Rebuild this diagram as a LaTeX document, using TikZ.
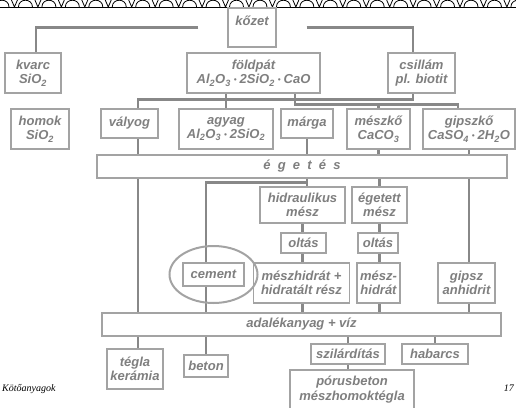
\documentclass[tikz,border=0pt]{standalone}
\usepackage{fontspec}
\setmainfont{Liberation Sans}
\newfontfamily\footfont{Liberation Serif}
\usepackage{tikz}
\usetikzlibrary{positioning, backgrounds}
\usepackage{xcolor}

\definecolor{boxgray}{HTML}{A3A3A3}
\definecolor{linegray}{HTML}{888888}
\definecolor{textgray}{HTML}{7F7F7F}

\newcommand{\lowidx}[1]{\textsubscript{#1}}
\newcommand{\kdot}{\hspace{3pt}{\fontsize{8}{8}\selectfont\raisebox{0.25ex}{•}}\hspace{3pt}}

\begin{document}
\begin{tikzpicture}[
    x=1pt, y=-1pt,
    box/.style={rectangle, draw=boxgray, line width=1.2pt, fill=white, text=textgray, align=center, inner sep=2pt,
        font=\fontsize{13}{14.5}\selectfont\bfseries\itshape},
    bar/.style={box, minimum height=23},
    conn/.style={draw=linegray, line width=2.5pt},
    ring/.style={draw=boxgray, line width=2pt}
]
\useasboundingbox (0,0) rectangle (516,407);

% border on top
\foreach \i in {0,...,22} {
    \pgfmathsetmacro{\xo}{\i*23.45-12}
    \draw[black, line width=0.8pt] (\xo,0) -- (\xo+3,7) -- (\xo+6,0);
    \draw[black, line width=0.8pt] (\xo+7,7) .. controls (\xo+7,-2) and (\xo+21,-2) .. (\xo+21,7);
}
\draw[black, line width=0.8pt] (0,7.3) -- (516,7.3);

% rocks
\node (kozet) [box, minimum width=48, text height=13pt, text depth=18pt, inner ysep=4pt] at (252,27.5) {kőzet};
\node (kvarc) [box, minimum width=56, minimum height=40] at (33,73) {kvarc\\SiO\lowidx{2}};
\node (foldpat) [box, minimum width=133, minimum height=40] at (253.5,73) {földpát\\Al\lowidx{2}O\lowidx{3}\kdot2SiO\lowidx{2}\kdot CaO};
\node (csillam) [box, minimum width=67, minimum height=40] at (421.5,73) {csillám\\pl. biotit};

% raw materials
\node (homok) [box, minimum width=58, minimum height=40] at (40,129) {homok\\SiO\lowidx{2}};
\node (valyog) [box, minimum width=57, minimum height=29] at (129.5,123.5) {vályog};
\node (agyag) [box, minimum width=94, minimum height=40] at (226,129) {agyag\\Al\lowidx{2}O\lowidx{3}\kdot2SiO\lowidx{2}};
\node (marga) [box, minimum width=52, minimum height=29] at (307,123.5) {márga};
\node (meszko) [box, minimum width=63, minimum height=40] at (378.5,129) {mészkő\\CaCO\lowidx{3}};
\node (gipszko) [box, minimum width=92, minimum height=40] at (469,129) {gipszkő\\CaSO\lowidx{4}\kdot2H\lowidx{2}O};

\node (egetes) [bar, minimum width=410] at (302,166.5) {é~~g~~e~~t~~é~~s};

% products of burning
\node (hidraulikus) [box, minimum width=85, minimum height=36] at (302.5,205) {hidraulikus\\mész};
\node (egetett) [box, minimum width=55, minimum height=36] at (379.5,205) {égetett\\mész};
\node (oltas1) [box, minimum width=45, minimum height=20] at (303.5,243) {oltás};
\node (oltas2) [box, minimum width=40, minimum height=20] at (378,243) {oltás};
\node (meszhidrat) [box, minimum width=96, minimum height=40] at (301.5,283) {mészhidrát +\\hidratált rész};
\node (meszhidrat2) [box, minimum width=43, minimum height=40] at (378.5,283) {mész-\\hidrát};
\node (gipsz) [box, minimum width=57, minimum height=40] at (466.5,283) {gipsz\\anhidrit};
\node (cement) [box, minimum width=61, minimum height=23] at (213.5,274.5) {cement};

\node (adalek) [bar, minimum width=399] at (301.5,324.5) {adalékanyag + víz};

% end products
\node (tegla) [box, minimum width=56, minimum height=40] at (135,369) {tégla\\kerámia};
\node (beton) [box, minimum width=44, minimum height=22] at (206,366) {beton};
\node (szilarditas) [box, minimum width=74, minimum height=20] at (348,354) {szilárdítás};
\node (habarcs) [box, minimum width=66, minimum height=20] at (435,354) {habarcs};
\node (porus) [box, minimum width=124, minimum height=39] at (352,389.5) {pórusbeton\\mészhomoktégla};

% footer
\node (cim) [anchor=west, inner sep=0pt, font=\footfont\itshape\fontsize{10}{12}\selectfont] at (2,389) {Kötőanyagok};
\node (oldal) [anchor=east, inner sep=0pt, font=\footfont\itshape\fontsize{10}{12}\selectfont] at (514,388) {17};

\draw[ring] (cement.center) ellipse [x radius=44, y radius=28.5];

% connectors
\begin{pgfonlayer}{background}
\draw[conn] ([xshift=-29]kozet.west) -| ([xshift=3]kvarc.north);
\draw[conn] ([xshift=30]kozet.east) -| ([xshift=-8.5]csillam.north);
\draw[conn] ([xshift=-8.5]csillam.south) -- ++(0,6) -| ([xshift=8.5]valyog.north);
\draw[conn] ([xshift=8.5]valyog.north) -- ([xshift=8.5]valyog.north |- tegla.north);
\draw[conn] (agyag.north |- foldpat.south) -- (agyag.north);
\draw[conn] ([xshift=41.5]foldpat.south) -- ++(0,11) -| ([xshift=-11]gipszko.north);
\draw[conn] (meszko.north) -- ++(0,-5);
\draw[conn] (marga.south) -- (marga.south |- hidraulikus.north);
\draw[conn] ([yshift=-4]egetes.south -| marga.south) -| (beton.north);
\draw[conn] (meszko.south) -- (meszko.south |- egetes.north);
\draw[conn] (egetett.north |- egetes.south) -- (egetett.north |- adalek.north);
\draw[conn] (gipszko.south) -- (gipszko.south |- adalek.north);
\draw[conn] (hidraulikus.south) -- (hidraulikus.south |- adalek.north);
\draw[conn] (szilarditas.north |- adalek.south) -- (szilarditas.north |- porus.north);
\draw[conn] (habarcs.north |- adalek.south) -- (habarcs.north);
\end{pgfonlayer}
\end{tikzpicture}
\end{document}
